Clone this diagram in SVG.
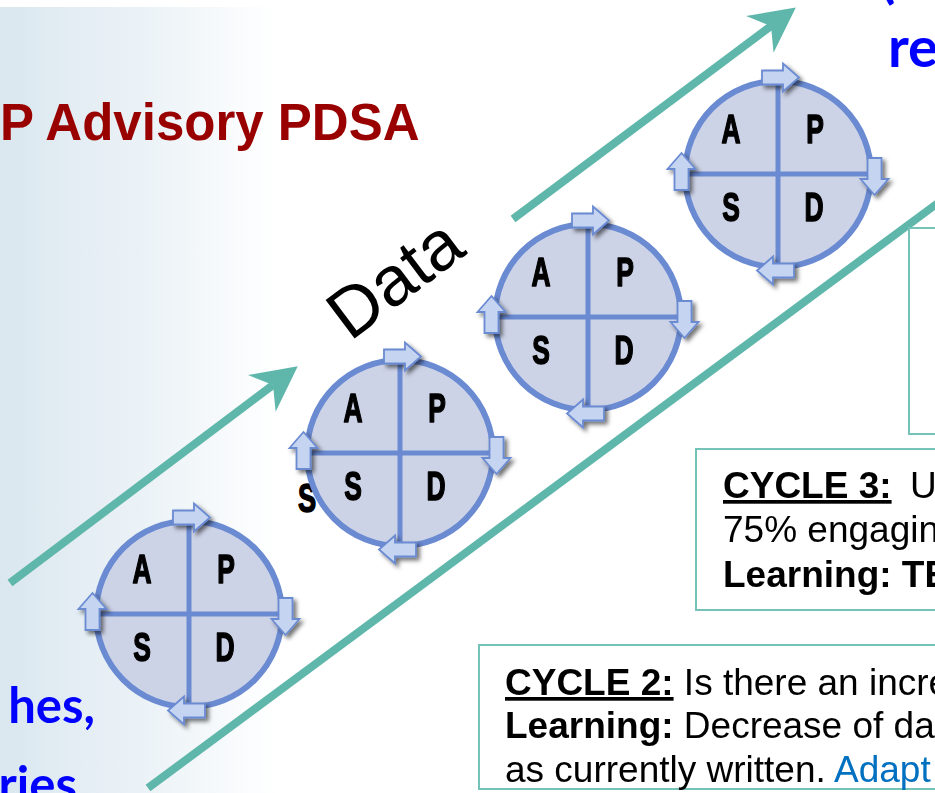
<svg xmlns="http://www.w3.org/2000/svg" xmlns:xlink="http://www.w3.org/1999/xlink" width="935" height="793" viewBox="0 0 935 793">
<defs>
<linearGradient id="bg" x1="0" y1="0" x2="1" y2="0">
<stop offset="0" stop-color="#dae7ef"/>
<stop offset="0.55" stop-color="#eef4f8"/>
<stop offset="0.92" stop-color="#ffffff"/>
</linearGradient>
<filter id="sh" x="-30%" y="-30%" width="160%" height="160%">
<feDropShadow dx="3" dy="3" stdDeviation="2" flood-color="#000" flood-opacity="0.55"/>
</filter>
<marker id="stealth" viewBox="-15 -24 47 48" refX="0" refY="0" markerWidth="47" markerHeight="48" markerUnits="userSpaceOnUse" orient="auto">
<path d="M31,0 L-14,-23 L0,0 L-14,23 Z" fill="#5fb7ab"/>
</marker>
<path id="barrow" d="M-16,-103.5H5V-110.5L21,-96.5L5,-82.5V-89.5H-16Z"/>
<g id="ring">
<circle r="93" class="ring"/>
<line x1="0" y1="-93" x2="0" y2="93" class="cross"/>
<line x1="-93" y1="0" x2="93" y2="0" class="cross"/>
<g filter="url(#sh)">
<use xlink:href="#barrow" class="ba"/>
<use xlink:href="#barrow" class="ba" transform="rotate(90)"/>
<use xlink:href="#barrow" class="ba" transform="rotate(180)"/>
<use xlink:href="#barrow" class="ba" transform="rotate(270)"/>
</g>
</g>
</defs>
<style>
.ring{fill:#cdd3e7;stroke:#6a8ad2;stroke-width:6}
.cross{stroke:#6a8ad2;stroke-width:5}
.ba{fill:#c5d5f1;stroke:#6a8ad2;stroke-width:1.8}
.lt{font-family:"Liberation Sans",Arial,sans-serif;font-weight:bold;font-size:40px;fill:#000;stroke:#000;stroke-width:1.6;stroke-linejoin:round;text-anchor:middle}
.teal{stroke:#5fb7ab;stroke-width:8;fill:none}
.box{fill:#fff;stroke:#74c2b8;stroke-width:2}
.bt{font-family:"Liberation Sans",Arial,sans-serif;font-size:37px;fill:#000}
.b{font-weight:bold}
.blue{font-family:Lato,"Liberation Sans",sans-serif;font-weight:bold;fill:#0000ff}
</style>
<rect x="0" y="0" width="935" height="793" fill="#fff"/>
<rect x="0" y="7" width="300" height="786" fill="url(#bg)"/>
<text id="title" x="0" y="140" font-family="Liberation Sans, Arial, sans-serif" font-weight="bold" font-size="51" fill="#990000">P Advisory PDSA</text>
<text class="blue" x="880" y="-3" font-size="56">(</text>
<text class="blue" x="888" y="67" font-size="56">re</text>
<text class="blue" x="95" y="723" font-size="49" text-anchor="end">hes,</text>
<text class="blue" x="77" y="802" font-size="49" text-anchor="end">ries</text>
<g id="connectors">
<path class="teal" d="M10,583 L273,385" marker-end="url(#stealth)"/>
<path class="teal" d="M513,219 L771,26" marker-end="url(#stealth)"/>
<path class="teal" d="M148,788 L950,194"/>
</g>
<text id="data-label" transform="translate(350,342) rotate(-37)" font-family="Liberation Sans, Arial, sans-serif" font-size="70" fill="#000">Data</text>
<text class="lt" transform="translate(307,512) scale(0.68,1)" font-size="50">S</text>
<g id="cycle1" transform="translate(189,614)">
<use xlink:href="#ring"/>
<text class="lt" transform="translate(-47,-31) scale(0.66,1)">A</text>
<text class="lt" transform="translate(37,-31) scale(0.66,1)">P</text>
<text class="lt" transform="translate(-47,47) scale(0.66,1)">S</text>
<text class="lt" transform="translate(36,47) scale(0.66,1)">D</text>
</g>
<g id="cycle2" transform="translate(400,453)">
<use xlink:href="#ring"/>
<text class="lt" transform="translate(-47,-31) scale(0.66,1)">A</text>
<text class="lt" transform="translate(37,-31) scale(0.66,1)">P</text>
<text class="lt" transform="translate(-47,47) scale(0.66,1)">S</text>
<text class="lt" transform="translate(36,47) scale(0.66,1)">D</text>
</g>
<g id="cycle3" transform="translate(588,317)">
<use xlink:href="#ring"/>
<text class="lt" transform="translate(-47,-31) scale(0.66,1)">A</text>
<text class="lt" transform="translate(37,-31) scale(0.66,1)">P</text>
<text class="lt" transform="translate(-47,47) scale(0.66,1)">S</text>
<text class="lt" transform="translate(36,47) scale(0.66,1)">D</text>
</g>
<g id="cycle4" transform="translate(778,174)">
<use xlink:href="#ring"/>
<text class="lt" transform="translate(-47,-31) scale(0.66,1)">A</text>
<text class="lt" transform="translate(37,-31) scale(0.66,1)">P</text>
<text class="lt" transform="translate(-47,47) scale(0.66,1)">S</text>
<text class="lt" transform="translate(36,47) scale(0.66,1)">D</text>
</g>
<g id="box-top">
<rect class="box" x="909" y="228" width="40" height="206"/>
</g>
<g id="box-cycle3">
<rect class="box" x="696" y="449" width="260" height="161"/>
<text class="bt" x="723" y="498" font-size="36"><tspan class="b" text-decoration="underline">CYCLE 3:</tspan><tspan x="910">U</tspan></text>
<text class="bt" x="723" y="542" font-size="36">75% engagin</text>
<text class="bt b" x="723" y="587" font-size="36">Learning: TE</text>
</g>
<g id="box-cycle2">
<rect class="box" x="479" y="645" width="470" height="144"/>
<text class="bt" x="505" y="695"><tspan class="b" text-decoration="underline">CYCLE 2:</tspan> Is there an incre</text>
<text class="bt" x="505" y="738"><tspan class="b">Learning:</tspan> Decrease of da</text>
<text class="bt" x="505" y="782">as currently written. <tspan fill="#0070c0">Adapt</tspan></text>
</g>
</svg>
